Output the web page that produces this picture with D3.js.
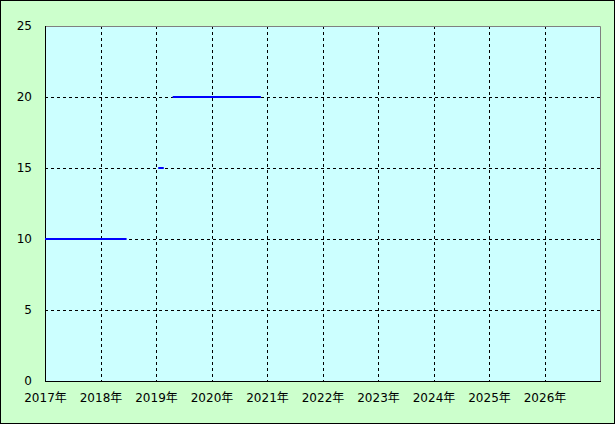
<!DOCTYPE html>
<html>
<head>
<meta charset="utf-8">
<script src="https://cdn.jsdelivr.net/npm/d3@7"></script>
<style>
  html, body { margin: 0; padding: 0; background: #ccffcc; }
  svg { display: block; }
  .tick text { font-family: "DejaVu Sans", "Noto Sans CJK JP", sans-serif; font-size: 12px; fill: #000; }
</style>
</head>
<body>
<div id="chart"></div>
<script>
// step segments: start year, end year, value
const segStart = [2017.0, 2019.04, 2019.30];
const segEnd = [2018.47, 2019.14, 2020.89];
const segValue = [10, 15, 20];

const yearTicks = [2017, 2018, 2019, 2020, 2021, 2022, 2023, 2024, 2025, 2026];
const valueTicks = [0, 5, 10, 15, 20, 25];

const W = 615, H = 424;
const margin = { top: 26, right: 15, bottom: 43, left: 45 };
const width = W - margin.left - margin.right;
const height = H - margin.top - margin.bottom;

const svg = d3.select('#chart').append('svg')
  .attr('width', W)
  .attr('height', H);

svg.append('rect')
  .attr('x', 0.5).attr('y', 0.5)
  .attr('width', W - 1).attr('height', H - 1)
  .attr('fill', '#ccffcc')
  .attr('stroke', '#000');

const g = svg.append('g')
  .attr('transform', 'translate(' + margin.left + ',' + margin.top + ')');

const x = d3.scaleLinear().domain([2017, 2027]).range([0, width]);
const y = d3.scaleLinear().domain([0, 25]).range([height, 0]);

g.append('rect')
  .attr('width', width).attr('height', height)
  .attr('fill', '#ccffff');

// grid
g.append('g').selectAll('line')
  .data(yearTicks.slice(1))
  .join('line')
  .attr('x1', d => Math.round(x(d)) + 0.5).attr('x2', d => Math.round(x(d)) + 0.5)
  .attr('y1', 0).attr('y2', height)
  .attr('stroke', '#000').attr('stroke-dasharray', '3,3');

g.append('g').selectAll('line')
  .data(valueTicks.slice(1, -1))
  .join('line')
  .attr('y1', d => Math.round(y(d)) + 0.5).attr('y2', d => Math.round(y(d)) + 0.5)
  .attr('x1', 0).attr('x2', width)
  .attr('stroke', '#000').attr('stroke-dasharray', '3,3');

// frame: grey top/right, black left/bottom
g.append('path')
  .attr('d', 'M0.5,0.5H' + (width + 0.5) + 'V' + (height + 0.5))
  .attr('fill', 'none').attr('stroke', '#808080');

// axes
const xAxis = d3.axisBottom(x)
  .tickValues(yearTicks)
  .tickSize(0)
  .tickPadding(12)
  .tickFormat(d => d + '年');

g.append('g')
  .attr('transform', 'translate(0,' + height + ')')
  .call(xAxis)
  .call(s => s.select('.domain').remove());

const yAxis = d3.axisLeft(y)
  .tickValues(valueTicks)
  .tickSize(0)
  .tickPadding(13);

g.append('g')
  .call(yAxis)
  .call(s => s.select('.domain').remove());

g.append('line')
  .attr('x1', 0.5).attr('x2', 0.5).attr('y1', 0).attr('y2', height + 1)
  .attr('stroke', '#000');
g.append('line')
  .attr('x1', 0).attr('x2', width + 1).attr('y1', height + 0.5).attr('y2', height + 0.5)
  .attr('stroke', '#000');

// data segments
g.append('g').selectAll('line')
  .data(segValue)
  .join('line')
  .attr('x1', (d, i) => x(segStart[i]))
  .attr('x2', (d, i) => x(segEnd[i]))
  .attr('y1', d => Math.round(y(d)))
  .attr('y2', d => Math.round(y(d)))
  .attr('stroke', '#0000ff')
  .attr('stroke-width', 2);
</script>
</body>
</html>
